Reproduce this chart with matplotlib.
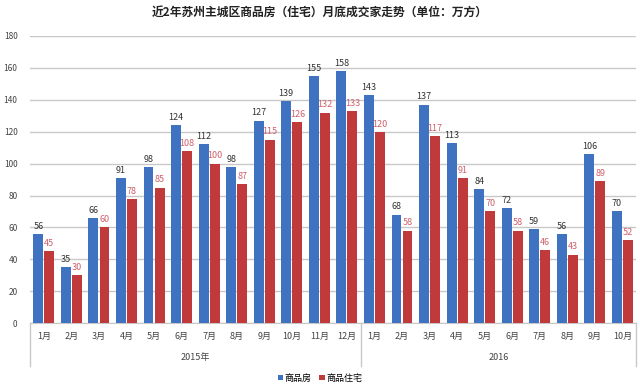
import matplotlib.pyplot as plt
import numpy as np

plt.rcParams['font.family'] = ['Noto Sans CJK SC', 'DejaVu Sans']

months = ['1月', '2月', '3月', '4月', '5月', '6月', '7月', '8月', '9月', '10月', '11月', '12月',
          '1月', '2月', '3月', '4月', '5月', '6月', '7月', '8月', '9月', '10月']
years = ['2015年', '2016']
year_len = [12, 10]
sales_all = [56, 35, 66, 91, 98, 124, 112, 98, 127, 139, 155, 158,
             143, 68, 137, 113, 84, 72, 59, 56, 106, 70]
sales_home = [45, 30, 60, 78, 85, 108, 100, 87, 115, 126, 132, 133,
              120, 58, 117, 91, 70, 58, 46, 43, 89, 52]

blue = '#3f72c0'
red = '#c0393b'

fig = plt.figure(figsize=(6.4, 3.87), dpi=100)
ax = fig.add_axes([0.047, 0.165, 0.947, 0.742])

x = np.arange(len(months))
w = 0.36
b1 = ax.bar(x - 0.2, sales_all, w, color=blue, label='商品房', zorder=3)
b2 = ax.bar(x + 0.2, sales_home, w, color=red, label='商品住宅', zorder=3)

for xi, v in zip(x, sales_all):
    ax.text(xi - 0.2, v + 2, str(v), ha='center', va='bottom', fontsize=6.5, color='#333333')
for xi, v in zip(x, sales_home):
    ax.text(xi + 0.2, v + 2, str(v), ha='center', va='bottom', fontsize=6.5, color='#d0606a')

ax.set_ylim(0, 180)
ax.set_xlim(-0.5, len(months) - 0.5)
ax.set_yticks(range(0, 181, 20))
ax.yaxis.grid(True, color='#c8c8c8', linewidth=1, zorder=0)
ax.tick_params(axis='y', length=0, labelsize=6, labelcolor='#444444', pad=9)
ax.set_xticks(x)
ax.set_xticklabels(months)
ax.tick_params(axis='x', length=0, labelsize=6.5, labelcolor='#444444', pad=6)
for s in ['top', 'right', 'left']:
    ax.spines[s].set_visible(False)
ax.spines['bottom'].set_color('#c8c8c8')

# year groups under the month labels
trans = ax.get_xaxis_transform()
start = 0
ax.plot([-0.5, -0.5], [0, -0.15], transform=trans, color='#c8c8c8', lw=1, clip_on=False)
for name, n in zip(years, year_len):
    end = start + n
    ax.plot([end - 0.5, end - 0.5], [0, -0.15], transform=trans, color='#c8c8c8', lw=1, clip_on=False)
    ax.text((start + end - 1) / 2, -0.12, name, transform=trans, ha='center', va='center',
            fontsize=6.5, color='#444444')
    start = end

fig.suptitle('近2年苏州主城区商品房（住宅）月底成交家走势（单位：万方）', y=0.985,
             fontsize=8.5, fontweight='bold', color='#222222')

fig.legend(handles=[b1, b2], loc='lower center', bbox_to_anchor=(0.5, -0.01), ncol=2,
           frameon=False, fontsize=6.5, handlelength=0.6, handleheight=0.6,
           handletextpad=0.2, columnspacing=0.8)

fig.savefig('out.png', dpi=100)
